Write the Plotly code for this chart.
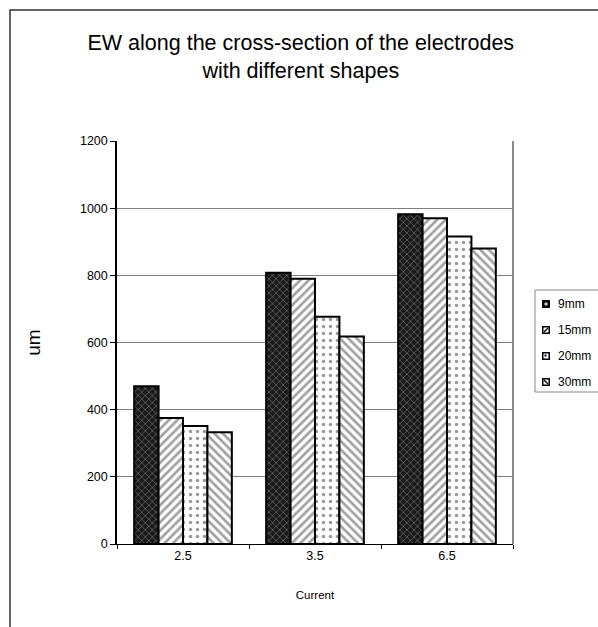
import plotly.graph_objects as go

# Current levels and electrode sizes
currents = ["2.5", "3.5", "6.5"]
series_names = ["9mm", "15mm", "20mm", "30mm"]
ew_9mm = [470, 808, 982]
ew_15mm = [375, 790, 970]
ew_20mm = [351, 677, 916]
ew_30mm = [333, 618, 880]
y_ticks = [0, 200, 400, 600, 800, 1000, 1200]

series_values = [ew_9mm, ew_15mm, ew_20mm, ew_30mm]
patterns = [
    dict(shape="x", bgcolor="#1a1a1a", fgcolor="#a0a0a0", size=5, solidity=0.3),
    dict(shape="/", bgcolor="white", fgcolor="#444444", size=6, solidity=0.45),
    dict(shape=".", bgcolor="white", fgcolor="#333333", size=7, solidity=0.2),
    dict(shape="\\", bgcolor="white", fgcolor="#444444", size=6, solidity=0.45),
]

FONT = "Liberation Sans, Arial, sans-serif"
W, H = 598, 627
ML, MR, MT, MB = 117, 85, 141, 83
PW, PH = W - ML - MR, H - MT - MB


def px(x):
    """Horizontal pixel position -> paper coordinate."""
    return (x - ML) / PW


def py(y):
    """Vertical pixel position (from top) -> paper coordinate."""
    return (H - MB - y) / PH


fig = go.Figure()
for name, vals, pat in zip(series_names, series_values, patterns):
    fig.add_trace(go.Bar(
        x=currents, y=vals, name=name, showlegend=False,
        marker=dict(color="white", pattern=pat,
                    line=dict(color="black", width=2)),
    ))

shapes = [
    # plot area right edge
    dict(type="line", xref="paper", yref="paper", x0=1, x1=1, y0=0, y1=1,
         line=dict(color="#888888", width=2)),
    # outer chart frame
    dict(type="rect", xref="paper", yref="paper",
         x0=px(10), x1=px(700), y0=py(700), y1=py(10),
         line=dict(color="#333333", width=1.5), layer="below"),
    # legend box
    dict(type="rect", xref="paper", yref="paper",
         x0=px(535), x1=px(640), y0=py(392), y1=py(290),
         line=dict(color="#888888", width=1), fillcolor="white"),
]
annotations = []


def rect(x0, y0, x1, y1, fill, line_w=0):
    return dict(type="rect", xref="paper", yref="paper",
                x0=px(x0), x1=px(x1), y0=py(y1), y1=py(y0),
                fillcolor=fill, line=dict(width=line_w, color=fill))


def seg(x0, y0, x1, y1, color, w=1):
    return dict(type="line", xref="paper", yref="paper",
                x0=px(x0), x1=px(x1), y0=py(y0), y1=py(y1),
                line=dict(color=color, width=w))


# legend entries: small swatch + label
row_y = [304, 330, 356, 382]
sx0, sx1 = 542, 550
for i, (name, cy) in enumerate(zip(series_names, row_y)):
    y0, y1 = cy - 4, cy + 4
    shapes.append(rect(sx0, y0, sx1, y1, "black"))
    if i == 0:
        shapes.append(seg(sx0 + 2, cy, sx1 - 2, cy, "white", 1))
        shapes.append(seg((sx0 + sx1) / 2, y0 + 2, (sx0 + sx1) / 2, y1 - 2, "white", 1))
    elif i == 1:
        shapes.append(rect(sx0 + 1.5, y0 + 1.5, sx1 - 1.5, y1 - 1.5, "white"))
        shapes.append(seg(sx0 + 2, y1 - 2, sx1 - 2, y0 + 2, "black", 1.2))
    elif i == 2:
        shapes.append(rect(sx0 + 1.5, y0 + 1.5, sx1 - 1.5, y1 - 1.5, "white"))
        shapes.append(rect(sx0 + 2.5, y0 + 2.5, sx0 + 4.5, y0 + 4.5, "black"))
    else:
        shapes.append(rect(sx0 + 1.5, y0 + 1.5, sx1 - 1.5, y1 - 1.5, "white"))
        shapes.append(seg(sx0 + 2, y0 + 2, sx1 - 2, y1 - 2, "black", 1.2))
    annotations.append(dict(
        text=name, xref="paper", yref="paper", x=px(556), y=py(cy),
        xanchor="left", yanchor="middle", showarrow=False,
        font=dict(size=12, family=FONT, color="black"),
    ))

fig.update_layout(
    width=W, height=H,
    margin=dict(l=ML, r=MR, t=MT, b=MB, autoexpand=False),
    paper_bgcolor="white", plot_bgcolor="white",
    font=dict(family=FONT, color="black", size=12),
    barmode="group", bargap=0.26, bargroupgap=0,
    showlegend=False,
    title=dict(
        text="EW along the cross-section of the electrodes<br>with different shapes",
        font=dict(size=21.5, family=FONT), x=0.503, xanchor="center",
        xref="container", yref="container",
        y=0.92, yanchor="middle",
    ),
    xaxis=dict(
        title=dict(text="Current", font=dict(size=11.5), standoff=28),
        tickfont=dict(size=12.5),
        showline=True, linecolor="black", linewidth=1,
        ticks="outside", ticklen=4, tickson="boundaries", tickcolor="black",
        showgrid=False, automargin=False,
    ),
    yaxis=dict(
        title=dict(text="um", font=dict(size=19), standoff=34),
        tickfont=dict(size=12.5),
        range=[0, 1200], tickvals=y_ticks,
        showline=True, linecolor="black", linewidth=1.5,
        ticks="outside", ticklen=5, tickcolor="black",
        showgrid=True, gridcolor="#808080", gridwidth=1,
        zeroline=False, automargin=False,
    ),
    shapes=shapes,
    annotations=annotations,
)

fig.write_html("out.html")
